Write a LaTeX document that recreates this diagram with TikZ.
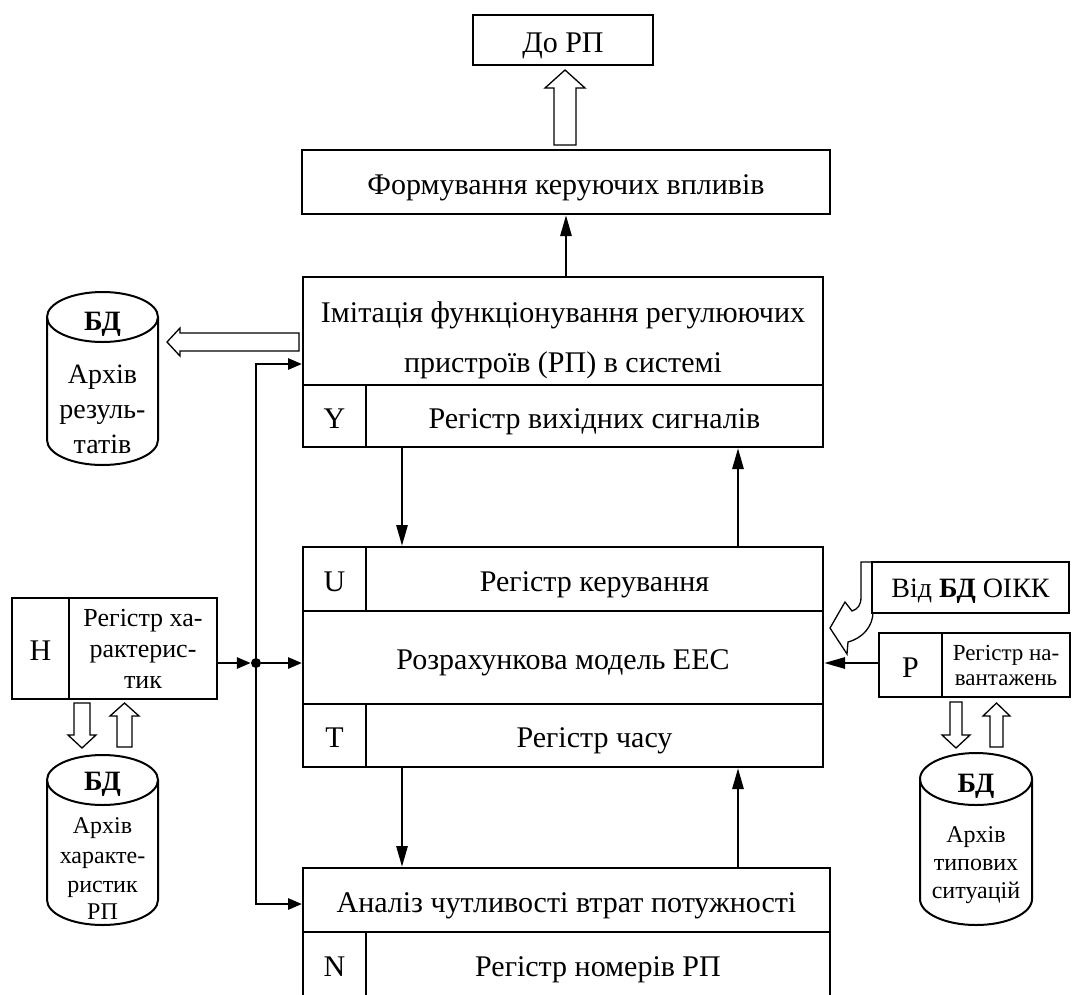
\documentclass[tikz,border=0pt]{standalone}
\usepackage{fontspec}
\setmainfont{Liberation Serif}
\usetikzlibrary{arrows.meta,calc}
\begin{document}
\begin{tikzpicture}[x=1pt,y=-1pt,
  frame/.style={draw, line width=2pt, inner sep=0pt, font=\fontsize{30}{36}\selectfont},
  box/.style={frame, text height=24pt, text depth=0pt},
  txt/.style={inner sep=0pt, font=\fontsize{30}{36}\selectfont},
  cyltxt/.style={inner sep=0pt, anchor=base, font=\fontsize{24}{28}\selectfont},
  cyltxtb/.style={inner sep=0pt, anchor=base, font=\fontsize{28}{32}\selectfont\bfseries},
  conn/.style={line width=2.8pt, line join=miter, -{Triangle[length=21pt,width=11pt]}},
  connshort/.style={line width=2.8pt, line join=miter, -{Triangle[length=14pt,width=11pt]}},
  hollow/.style={draw, line width=1.3pt, fill=white, line join=miter},
  cyl/.style={draw, line width=2pt},
]
\useasboundingbox (0,0) rectangle (1073,994);
\clip (0,0) rectangle (1073,994);

% top boxes
\node[box, minimum width=180pt, minimum height=50pt] (dorp) at (563,40) {До РП};
\node[box, minimum width=528pt, minimum height=64pt] (form) at (566,182) {Формування керуючих впливів};
\draw[hollow] (554,145) -- (554,88) -- (545,88) -- (565,70) -- (585,88) -- (576,88) -- (576,145) -- cycle;

% imitation block
\node[frame, minimum width=520pt, minimum height=108pt] (imit) at (563,331) {};
\node[txt, anchor=base] (imt1) at (563,322) {Імітація функціонування регулюючих};
\node[txt, anchor=base] (imt2) at (563,372) {пристроїв (РП) в системі};
\node[box, minimum width=63pt, minimum height=62pt] (ycell) at (334.5,416) {Y};
\node[box, minimum width=457pt, minimum height=62pt] (ytext) at (594.5,416) {Регістр вихідних сигналів};

% central block
\node[box, minimum width=63pt, minimum height=64pt] (ucell) at (334.5,579) {U};
\node[box, minimum width=457pt, minimum height=64pt] (utext) at (594.5,579) {Регістр керування};
\node[box, minimum width=520pt, minimum height=93pt] (model) at (563,657.5) {Розрахункова модель ЕЕС};
\node[box, minimum width=63pt, minimum height=63pt] (tcell) at (334.5,735.5) {T};
\node[box, minimum width=457pt, minimum height=63pt] (ttext) at (594.5,735.5) {Регістр часу};

% bottom block
\node[box, minimum width=527pt, minimum height=64pt] (analiz) at (566.5,900) {Аналіз чутливості втрат потужності};
\node[box, minimum width=63pt, minimum height=68pt, text height=20pt] (ncell) at (334.5,966) {N};
\node[box, minimum width=464pt, minimum height=68pt, text height=20pt] (ntext) at (598,966) {Регістр номерів РП};

% H register
\node[box, minimum width=57pt, minimum height=101pt] (hcell) at (40.5,648.5) {H};
\node[frame, minimum width=148pt, minimum height=101pt, align=center, font=\fontsize{26}{31}\selectfont] (htext) at (143,648.5) {Регістр ха-\\рактерис-\\тик};

% P register
\node[box, minimum width=63pt, minimum height=64pt] (pcell) at (910.5,665) {P};
\node[frame, minimum width=128pt, minimum height=64pt, align=center, font=\fontsize{23}{25}\selectfont] (ptext) at (1006,665) {Регістр на-\\вантажень};

% OIKK callout
\draw[hollow] (861,562) -- (861,597) .. controls (861,605) and (858,609) .. (852,611) -- (845,602) -- (830,628) -- (847,654) -- (848,642) .. controls (863,638) and (873,626) .. (873,612) -- (873,562) -- cycle;
\node[box, fill=white, minimum width=197pt, minimum height=51pt, font=\fontsize{28}{32}\selectfont, text height=19pt] (oikk) at (970.5,587.5) {Від \textbf{БД} ОІКК};

% cylinders
\draw[cyl] (47,317) -- (47,440) arc[start angle=180,end angle=0,x radius=55.5,y radius=25] -- (158,317);
\draw[cyl] (102.5,317) ellipse [x radius=55.5, y radius=25];
\node[cyltxtb] (c1a) at (102.5,330) {БД};
\node[cyltxt, font=\fontsize{28}{32}\selectfont] (c1b) at (102.5,383) {Архів};
\node[cyltxt, font=\fontsize{28}{32}\selectfont] (c1c) at (102.5,418) {резуль-};
\node[cyltxt, font=\fontsize{28}{32}\selectfont] (c1d) at (102.5,453) {татів};

\draw[cyl] (47,780) -- (47,900) arc[start angle=180,end angle=0,x radius=55.5,y radius=25] -- (158,780);
\draw[cyl] (102.5,780) ellipse [x radius=55.5, y radius=25];
\node[cyltxtb] (c2a) at (102.5,790) {БД};
\node[cyltxt] (c2b) at (102.5,833) {Архів};
\node[cyltxt] (c2c) at (102.5,863) {характе-};
\node[cyltxt] (c2d) at (102.5,892) {ристик};
\node[cyltxt] (c2e) at (102.5,919) {РП};

\draw[cyl] (920,779) -- (920,899) arc[start angle=180,end angle=0,x radius=56,y radius=26] -- (1032,779);
\draw[cyl] (976,779) ellipse [x radius=56, y radius=26];
\node[cyltxtb] (c3a) at (976,792) {БД};
\node[cyltxt] (c3b) at (976,842) {Архів};
\node[cyltxt] (c3c) at (976,870) {типових};
\node[cyltxt] (c3d) at (976,898) {ситуацій};

% hollow arrows
\draw[hollow] (299,333) -- (180,333) -- (180,328) -- (167,342) -- (180,356) -- (180,351) -- (299,351) -- cycle;
\draw[hollow] (74,703) -- (74,735) -- (68,735) -- (82,748) -- (96,735) -- (90,735) -- (90,703) -- cycle;
\draw[hollow] (117,747) -- (117,716) -- (110,716) -- (124.5,703) -- (139,716) -- (132,716) -- (132,747) -- cycle;
\draw[hollow] (950,702) -- (950,735) -- (942,735) -- (956,748) -- (970,735) -- (962,735) -- (962,702) -- cycle;
\draw[hollow] (990,747) -- (990,716) -- (983,716) -- (996.5,703) -- (1010,716) -- (1003,716) -- (1003,747) -- cycle;

% connectors
\draw[conn] (form.south |- imit.north) -- (form.south);
\draw[conn] ([xshift=37pt]ytext.south west) -- ([xshift=37pt]utext.north west);
\draw[conn] ([xshift=-86pt]utext.north east) -- ([xshift=-86pt]ytext.south east);
\draw[conn] ([xshift=37pt]ttext.south west) -- ([xshift=37pt]ttext.south west |- analiz.north);
\draw[conn] ([xshift=-86pt]ttext.south east |- analiz.north) -- ([xshift=-86pt]ttext.south east);

\node[circle, fill, inner sep=0pt, minimum size=10pt] (dot) at (256,663) {};
\coordinate (bustop) at (256,364);
\coordinate (busbot) at (256,904);
\draw[connshort, {Triangle[length=14pt,width=11pt]}-{Triangle[length=14pt,width=11pt]}] (bustop -| imit.west) -- (bustop) -- (busbot) -- (busbot -| analiz.west);
\draw[connshort] (htext.east |- dot) -- (dot.west);
\draw[connshort] (dot.east) -- (dot -| model.west);
\draw[conn] (pcell.west |- dot) -- (dot -| model.east);
\end{tikzpicture}
\end{document}
